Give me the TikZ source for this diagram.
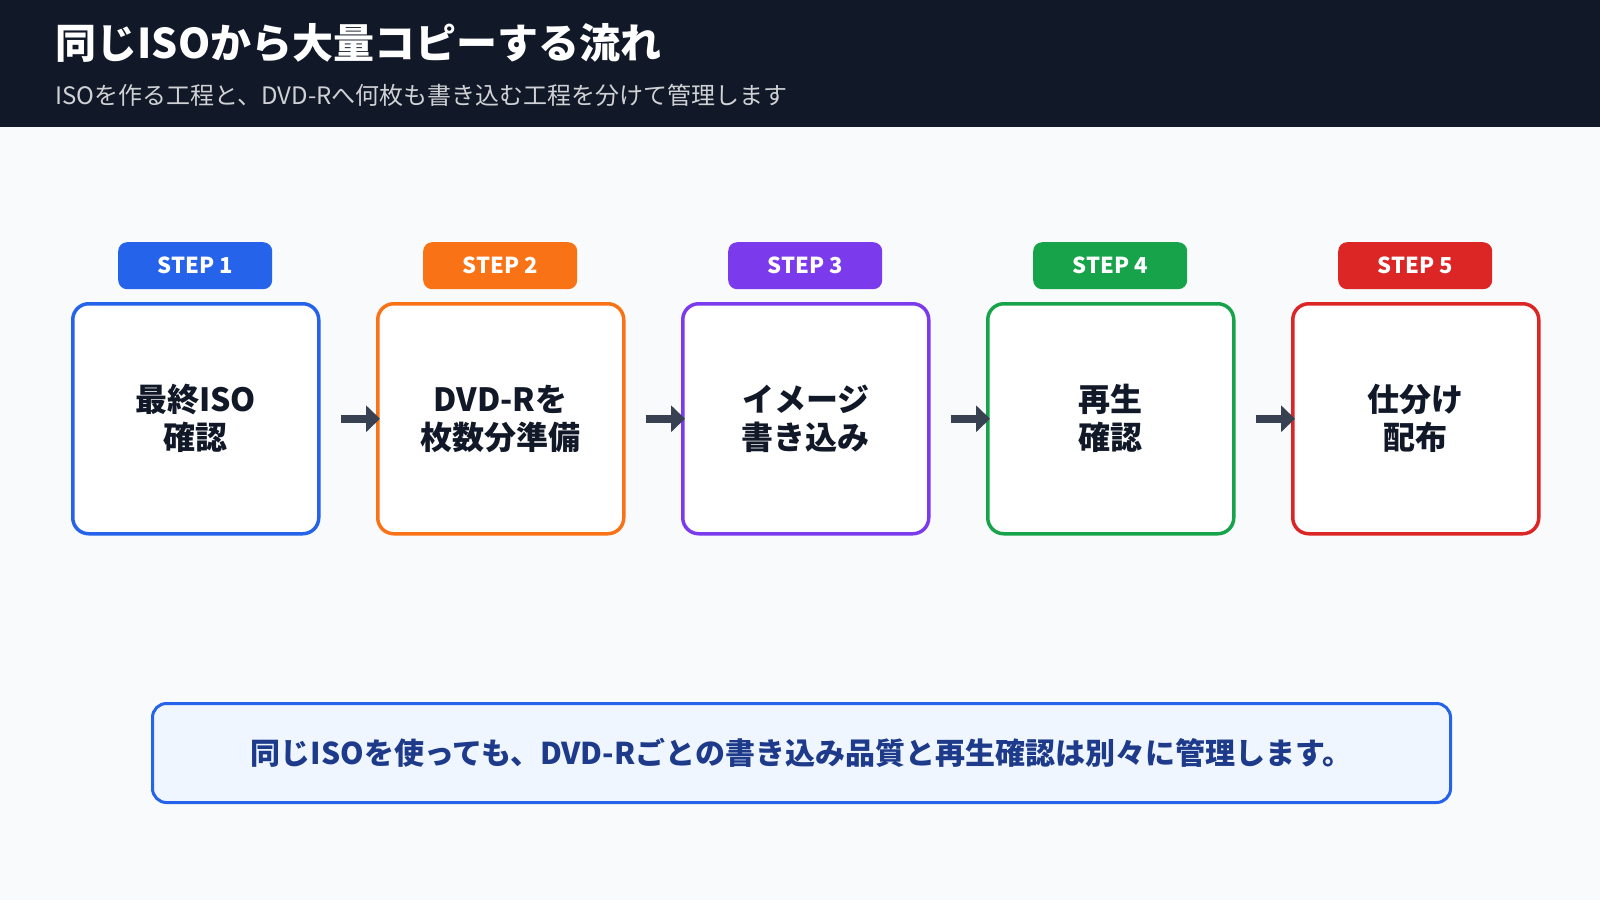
\documentclass[tikz,border=0pt]{standalone}
\usepackage{fontspec}
\setmainfont{Noto Sans CJK JP}
\usetikzlibrary{arrows.meta}
\definecolor{hdr}{HTML}{111827}
\definecolor{bg}{HTML}{F8FAFC}
\definecolor{c1}{HTML}{2563EB}\definecolor{c2}{HTML}{F97316}\definecolor{c3}{HTML}{7C3AED}
\definecolor{c4}{HTML}{16A34A}\definecolor{c5}{HTML}{DC2626}
\definecolor{arr}{HTML}{374151}\definecolor{note}{HTML}{1E3A8A}\definecolor{notebg}{HTML}{EFF6FF}
\begin{document}
\begin{tikzpicture}[x=1pt,y=-1pt,
 box/.style={draw=#1,line width=3.5pt,rounded corners=16pt,fill=white,minimum width=246pt,minimum height=230pt,anchor=north west,align=center,font=\fontsize{32}{38}\selectfont\bfseries,text=hdr},
 badge/.style={fill=#1,rounded corners=9pt,minimum width=154pt,minimum height=47pt,anchor=north west,text=white,font=\fontsize{22}{24}\selectfont\bfseries},
 arw/.style={draw=arr,line width=8pt,-{Triangle[length=14pt,width=26pt]}}]
\fill[bg] (0,0) rectangle (1600,900);
\fill[hdr] (0,0) rectangle (1600,127);
\node[anchor=west,text=white,font=\fontsize{41}{46}\selectfont\bfseries] (t) at (52,43) {同じISOから大量コピーする流れ};
\node[anchor=west,text=white!80!hdr,font=\fontsize{24}{27}\selectfont] (s) at (52,95) {ISOを作る工程と、DVD-Rへ何枚も書き込む工程を分けて管理します};
\foreach \i/\c/\t in {1/c1/{最終ISO\\確認},2/c2/{DVD-Rを\\枚数分準備},3/c3/{イメージ\\書き込み},4/c4/{再生\\確認},5/c5/{仕分け\\配布}}{
 \node[box=\c] (b\i) at ({71+305*(\i-1)},302) {\t};
 \node[badge=\c] (g\i) at ({118+305*(\i-1)},242) {STEP \i};
}
\foreach \i/\j in {1/2,2/3,3/4,4/5}{\draw[arw] ([xshift=20pt]b\i.east) -- ([xshift=4pt]b\j.west);}
\node[draw=c1,line width=3pt,rounded corners=14pt,fill=notebg,minimum width=1298pt,minimum height=99pt,anchor=north west,text=note,font=\fontsize{30}{32}\selectfont\bfseries] (n) at (151,702) {同じISOを使っても、DVD-Rごとの書き込み品質と再生確認は別々に管理します。};
\end{tikzpicture}
\end{document}
